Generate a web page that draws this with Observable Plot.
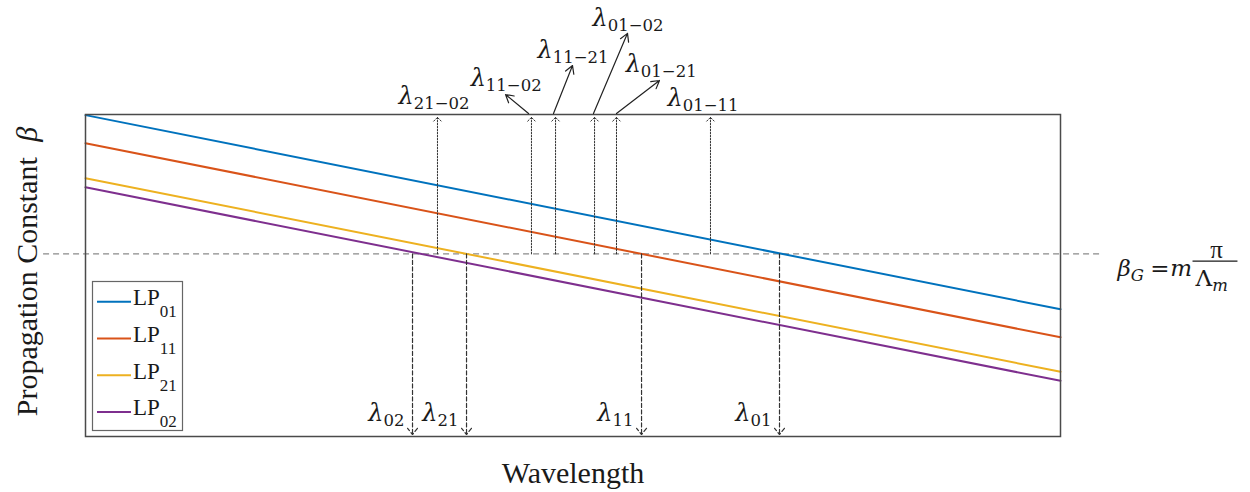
<!DOCTYPE html>
<html><head><meta charset="utf-8">
<script src="https://cdn.jsdelivr.net/npm/d3@7"></script>
<script src="https://cdn.jsdelivr.net/npm/@observablehq/plot@0.6"></script>
<style>
html,body{margin:0;padding:0;background:#fff;}
#chart{width:1250px;height:492px;}
</style></head><body><div id="chart"></div>
<script>
// ---- data (arbitrary units) ----
const modes = ["LP01", "LP11", "LP21", "LP02"];
const modeLabels = ["01", "11", "21", "02"];
const colors = ["#0072BD", "#D95319", "#EDB120", "#7E2F8E"];
const wavelengthEnds = [0, 10];
const betaStart = [9.98, 9.11, 8.02, 7.74];
const betaEnd = [3.95, 3.08, 2.01, 1.73];
const betaG = 5.67;
const gratingSpan = [-0.43, 10.41];

const resonanceLabels = ["λ_{02}", "λ_{21}", "λ_{11}", "λ_{01}"];
const resonanceX = [3.354, 3.908, 5.703, 7.118];
const resonanceBottom = 0.06;
const resonanceLabelY = 0.466;

const couplingLabels = ["λ_{21−02}", "λ_{11−02}", "λ_{11−21}", "λ_{01−02}", "λ_{01−21}", "λ_{01−11}"];
const couplingX = [3.61, 4.574, 4.821, 5.221, 5.446, 6.41];
const couplingTop = 9.91;
const couplingLabelX = [3.21, 3.95, 4.636, 5.20, 5.54, 5.97];
const couplingLabelY = [10.34, 10.90, 11.74, 12.76, 11.335, 10.25];

const pointerX1 = [4.544, 4.80, 5.21, 5.446];
const pointerY1 = [10.03, 10.03, 10.03, 10.03];
const pointerX2 = [4.308, 4.995, 5.559, 5.887];
const pointerY2 = [10.62, 11.52, 12.52, 11.056];

// formula pieces: βG = m π / Λm
const formulaTexts = ["β_{G}", "=", "m", "Λ_{m}"];
const formulaX = [10.585, 10.92, 11.125, 11.385];
const formulaY = [5.0, 5.0, 5.0, 4.689];
const formulaStyle = ["italic", "normal", "italic", "normal"];
const formulaNum = ["π"];
const formulaNumPos = [11.6, 5.559];
const fractionBar = [11.354, 11.815, 5.444];

// table for lines
const rows = modes.flatMap((m, i) => [
  {mode: m, x: wavelengthEnds[0], beta: betaStart[i]},
  {mode: m, x: wavelengthEnds[1], beta: betaEnd[i]}
]);

const mathFont = "DejaVu Serif";
const ink = "#1a1a1a";

const chart = Plot.plot({
  width: 1250, height: 492,
  marginTop: 114, marginRight: 190, marginBottom: 56, marginLeft: 85,
  x: {domain: [0, 10], axis: null},
  y: {domain: [0, 10], axis: null},
  color: {domain: modes, range: colors},
  style: {background: "white", overflow: "visible"},
  marks: [
    Plot.ruleY([betaG], {x1: gratingSpan[0], x2: gratingSpan[1], stroke: "#8a8a8a", strokeWidth: 1.3, strokeDasharray: "6,4"}),
    Plot.line(rows, {x: "x", y: "beta", z: "mode", stroke: "mode", strokeWidth: 2}),
    Plot.frame({stroke: "#4a4a4a", strokeWidth: 1.5}),
    // intermodal coupling (dotted, upward)
    Plot.arrow(couplingX, {x1: d => d, x2: d => d, y1: betaG, y2: couplingTop,
      stroke: "#333", strokeWidth: 1, strokeDasharray: "1.5,1.5", headLength: 8, headAngle: 90}),
    // resonance (dashed, downward)
    Plot.arrow(resonanceX, {x1: d => d, x2: d => d, y1: betaG, y2: resonanceBottom,
      stroke: "#333", strokeWidth: 1.2, strokeDasharray: "4,2.5", headLength: 10, headAngle: 76}),
    // pointer arrows
    Plot.arrow(pointerX1, {x1: d => d, y1: (d, i) => pointerY1[i], x2: (d, i) => pointerX2[i], y2: (d, i) => pointerY2[i],
      stroke: "#222", strokeWidth: 1.2, headLength: 11, headAngle: 60}),
    // labels
    Plot.text(couplingLabels, {x: (d, i) => couplingLabelX[i], y: (d, i) => couplingLabelY[i], text: d => d,
      textAnchor: "start", lineAnchor: "bottom", fontFamily: mathFont, fontStyle: "italic", fontSize: 24, fill: ink}),
    Plot.text(resonanceLabels, {x: (d, i) => resonanceX[i], y: resonanceLabelY, text: d => d, dx: -8,
      textAnchor: "end", lineAnchor: "bottom", fontFamily: mathFont, fontStyle: "italic", fontSize: 24, fill: ink}),
    // formula
    Plot.text(formulaTexts, {x: (d, i) => formulaX[i], y: (d, i) => formulaY[i], text: d => d,
      textAnchor: "start", lineAnchor: "bottom", fontFamily: mathFont, fontSize: 23, fill: ink}),
    Plot.text(formulaNum, {x: formulaNumPos[0], y: formulaNumPos[1], text: d => d,
      textAnchor: "middle", lineAnchor: "bottom", fontFamily: "Liberation Serif", fontSize: 25, fill: ink}),
    Plot.link([fractionBar], {x1: d => d[0], x2: d => d[1], y1: d => d[2], y2: d => d[2], stroke: ink, strokeWidth: 1.3}),
    // axis titles
    Plot.text(["Propagation Constant ~{β}"], {frameAnchor: "left", text: d => d, rotate: -90, dx: -49, dy: -4,
      lineAnchor: "bottom", textAnchor: "middle", fontFamily: "Liberation Serif", fontSize: 30, fill: ink}),
    Plot.text(["Wavelength"], {frameAnchor: "bottom", text: d => d, dy: 46,
      lineAnchor: "bottom", textAnchor: "middle", fontFamily: "Liberation Serif", fontSize: 30, fill: ink})
  ]
});

document.getElementById("chart").appendChild(chart);

// formula styles (italic / upright per piece)
d3.select(chart).selectAll("text").each(function () {
  const i = formulaTexts.indexOf(this.textContent);
  if (i >= 0) d3.select(this).attr("font-style", formulaStyle[i]);
});

// ---- rich text: _{sub}, ~{italic}, ^{upright} ----
const SUB_SIZE = 16.5, SUB_SHIFT = 5;
d3.select(chart).selectAll("text").each(function () {
  const s = this.textContent;
  if (!/[_~^]\{/.test(s)) return;
  const parts = s.split(/([_~^]\{[^}]*\})/).filter(p => p.length);
  const sel = d3.select(this);
  sel.text(null);
  let shifted = 0;
  for (const p of parts) {
    const t = sel.append("tspan");
    if (p.startsWith("_{")) {
      const c = p.slice(2, -1);
      t.text(c).attr("font-size", SUB_SIZE).attr("dy", SUB_SHIFT - shifted);
      shifted = SUB_SHIFT;
      t.attr("font-style", /^[0-9−]+$/.test(c) ? "normal" : "italic");
      continue;
    }
    if (p.startsWith("~{")) { t.text(p.slice(2, -1)).attr("font-style", "italic").attr("dx", 8); }
    else if (p.startsWith("^{")) { t.text(p.slice(2, -1)).attr("font-style", "normal"); }
    else { t.text(p); }
    if (shifted) { t.attr("dy", -shifted); shifted = 0; }
  }
});

// ---- legend ----
const lg = d3.select(chart).append("g").attr("text-anchor", "start");
lg.append("rect").attr("x", 92.5).attr("y", 281.5).attr("width", 90).attr("height", 149)
  .attr("fill", "white").attr("stroke", "#666").attr("stroke-width", 1.2);
modes.forEach((m, i) => {
  const yy = 301.8 + i * 36.7;
  lg.append("line").attr("x1", 97).attr("x2", 131).attr("y1", yy).attr("y2", yy)
    .attr("stroke", colors[i]).attr("stroke-width", 2);
  const t = lg.append("text").attr("x", 133).attr("y", yy + 3.5).attr("text-anchor", "start")
    .attr("font-family", "Liberation Serif").attr("font-size", 23).attr("fill", ink);
  t.append("tspan").text("LP");
  t.append("tspan").text(modeLabels[i]).attr("font-size", 17).attr("dy", 12);
});
</script>
</body></html>
